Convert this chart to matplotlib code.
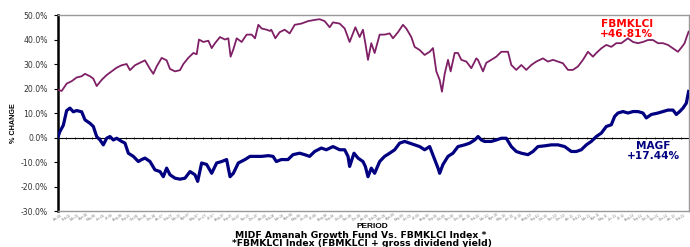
import matplotlib
matplotlib.use("Agg")
import matplotlib.pyplot as plt

plt.rcParams['font.family'] = ['Liberation Sans', 'DejaVu Sans']

# ---- data (months from start of period, % change) ----
klci_t = [0.0, 0.47, 1.05, 1.64, 2.22, 2.81, 3.20, 3.79, 4.18, 4.57, 5.15, 5.74, 6.33, 6.91, 7.50,
          8.08, 8.47, 9.06, 9.65, 10.23, 10.82, 11.21, 11.60, 12.19, 12.77, 13.16, 13.75, 14.34,
          14.73, 15.31, 15.90, 16.29, 16.56, 17.07, 17.66, 18.05, 18.44, 19.02, 19.61, 20.00,
          20.27, 20.59, 20.98, 21.56, 22.15, 22.74, 23.13, 23.52, 23.91, 24.49, 24.88,
          25.04, 25.51, 26.02, 26.60, 27.19, 27.78, 28.56, 29.34, 30.12, 30.71, 31.29, 31.88,
          32.27, 33.05, 33.64, 34.22, 34.89, 35.39, 35.78, 36.06, 36.37, 36.76, 37.15, 37.74,
          38.32, 38.91, 39.30, 39.89, 40.47, 40.86, 41.45, 41.84, 42.43, 43.01, 43.60, 43.99,
          44.38, 44.77, 45.04, 45.36, 45.75, 46.06, 46.53, 46.92, 47.31, 47.90, 48.48, 49.07,
          49.26, 49.85, 50.24, 50.82, 51.41, 52.00, 52.78, 53.17, 53.75, 54.34, 54.93, 55.51,
          56.10, 56.88, 57.46, 58.05, 58.64, 59.22, 59.81, 60.39, 60.98, 61.57, 62.15, 62.74,
          63.13, 63.72, 64.30, 64.89, 65.47, 66.06, 66.84, 67.43, 68.01, 68.60, 69.19, 69.77,
          70.36, 70.94, 71.53, 72.12, 72.70, 73.17, 73.48, 73.80, 73.95]
klci_v = [19.5, 19.0, 22.0, 23.0, 24.5, 25.0, 26.0, 25.0, 24.0, 21.0, 23.5, 25.5, 27.0, 28.5, 29.5,
          30.0, 27.5, 29.5, 30.5, 31.5, 28.0, 26.0, 29.0, 32.5, 31.5, 28.0, 27.0, 27.5,
          30.0, 32.5, 34.5, 34.0, 40.0, 39.0, 39.5, 36.5, 38.5, 41.0, 40.0, 40.5,
          33.0, 36.0, 40.5, 39.0, 42.0, 42.0, 40.5, 46.0, 44.5, 44.0, 43.5,
          44.0, 40.5, 43.0, 44.0, 42.5, 46.0, 46.5, 47.5, 48.0, 48.3, 47.5, 45.0,
          47.0, 46.5, 44.5, 39.0, 45.0, 41.0, 44.0, 38.5, 31.7, 38.5, 34.5, 42.0,
          42.0, 42.5, 40.5, 43.0, 46.0, 44.5, 41.0, 37.0, 35.7, 33.7, 35.0, 36.5,
          27.0, 23.5, 18.7, 26.0, 31.7, 27.0, 34.5, 34.5, 31.7, 31.0, 28.3, 32.3,
          31.7, 27.0, 30.5, 31.7, 33.0, 35.0, 35.0, 29.6, 27.6, 29.6, 27.6, 29.6,
          31.0, 32.3, 31.0, 31.7, 31.0, 30.3, 27.6, 27.6, 29.0, 31.7, 35.0, 33.0,
          34.5, 36.4, 37.8, 37.0, 38.5, 38.5, 40.5, 39.0, 38.5, 39.0, 39.8, 39.8,
          38.5, 38.5, 37.8, 36.4, 35.0, 37.0, 38.5, 41.8, 43.2]

magf_t = [0.0, 0.27, 0.66, 1.05, 1.44, 1.83, 2.22, 2.81, 3.20, 3.79, 4.18, 4.57, 4.96, 5.35, 5.74,
          6.13, 6.52, 6.91, 7.50, 7.89, 8.28, 8.87, 9.45, 9.84, 10.23, 10.82, 11.40, 11.99,
          12.38, 12.77, 13.16, 13.75, 14.34, 14.92, 15.51, 16.09, 16.41, 16.87, 17.46, 18.05,
          18.63, 19.22, 19.80, 20.20, 20.59, 21.17, 21.95, 22.54, 23.13, 23.91, 24.69,
          25.24, 25.63, 26.21, 26.99, 27.58, 28.36, 28.95, 29.53, 30.12, 30.90, 31.49, 32.27,
          33.05, 33.64, 34.03, 34.22, 34.73, 35.20, 35.78, 36.06, 36.37, 36.76, 37.15, 37.74,
          38.32, 38.91, 39.50, 40.08, 40.67, 41.25, 41.84, 42.43, 43.01, 43.60, 44.19, 44.58,
          44.77, 45.16, 45.75, 46.33, 46.92, 47.70, 48.29, 48.88, 49.27, 49.66,
          50.04, 50.82, 51.41, 52.00, 52.58, 53.17, 53.75, 54.34, 55.12, 55.71, 56.29, 57.07,
          57.86, 58.64, 59.42, 60.20, 60.79, 61.37, 61.96, 62.54, 63.13, 63.72, 64.30, 64.89,
          65.28, 65.67, 66.26, 66.84, 67.43, 68.01, 68.60, 68.99, 69.58, 70.36, 70.94, 71.53,
          72.12, 72.51, 72.90, 73.29, 73.68, 73.95]
magf_v = [0.0, 2.5, 5.0, 11.0, 12.0, 10.5, 11.0, 10.5, 7.2, 5.8, 4.5, 0.4, -1.0, -3.0, -0.3,
          0.4, -1.0, -0.3, -1.6, -2.3, -6.4, -7.7, -9.8, -9.0, -8.4, -9.8, -13.2, -13.9,
          -16.0, -12.5, -15.2, -16.6, -17.0, -16.6, -13.9, -15.2, -17.9, -10.4, -11.0, -14.6,
          -10.4, -9.8, -9.0, -16.0, -14.6, -10.4, -9.0, -7.7, -7.7, -7.7, -7.4,
          -7.7, -9.8, -9.0, -9.0, -7.0, -6.4, -7.0, -7.7, -5.7, -4.3, -5.0, -3.7,
          -5.0, -5.0, -7.7, -11.8, -6.4, -8.4, -9.8, -11.8, -16.0, -12.5, -14.6, -9.8,
          -7.7, -6.4, -5.0, -2.3, -1.6, -2.3, -3.0, -3.7, -5.0, -3.7, -9.0, -12.5,
          -14.6, -11.0, -7.7, -6.4, -3.7, -3.0, -2.3, -1.0, 0.4, -1.0,
          -1.6, -1.6, -1.0, -0.3, -0.3, -3.7, -5.7, -6.4, -7.0, -5.7, -3.7, -3.4,
          -3.0, -3.0, -3.7, -5.7, -5.7, -5.0, -3.0, -1.6, 0.4, 1.8, 4.5, 5.2,
          8.6, 10.0, 10.6, 10.0, 10.6, 10.6, 10.0, 8.0, 9.4, 10.0, 10.6, 11.2,
          11.2, 9.4, 10.6, 12.0, 14.0, 18.8]

month_names = ['Jan', 'Feb', 'Mar', 'Apr', 'May', 'Jun', 'Jul', 'Aug', 'Sep', 'Oct', 'Nov', 'Dec']
tick_months = list(range(0, 74))
tick_labels = [f"{month_names[m % 12]}-{(m // 12) + 6:02d}" for m in tick_months]
y_ticks = [-30, -20, -10, 0, 10, 20, 30, 40, 50]

klci_label = "FBMKLCI\n+46.81%"
magf_label = "MAGF\n+17.44%"
title1 = "MIDF Amanah Growth Fund Vs. FBMKLCI Index *"
title2 = "*FBMKLCI Index (FBMKLCI + gross dividend yield)"

# ---- figure ----
fig = plt.figure(figsize=(6.9, 2.47), dpi=100)
ax = fig.add_axes([0.0836, 0.1457, 0.9150, 0.7935])

ax.plot(klci_t, klci_v, color='#7F1F66', lw=1.3, zorder=3)
ax.plot(magf_t, magf_v, color='#000080', lw=2.3, zorder=3)

ax.axhline(0, color='black', lw=0.8, zorder=2)
ax.plot(tick_months, [0] * len(tick_months), ls='none', marker='|', ms=2, mew=0.5,
        color='black', zorder=2)

ax.set_xlim(0, 74)
ax.set_ylim(-30, 50)
ax.set_yticks(y_ticks)
ax.set_yticklabels([f"{v:.1f}%" for v in y_ticks], fontsize=5.6, color='#333333',
                   family='DejaVu Sans')
ax.set_xticks(tick_months)
ax.set_xticklabels(tick_labels, fontsize=2.3, color='#777777', rotation=30)
ax.tick_params(axis='x', length=0, pad=1.5)
ax.tick_params(axis='y', length=3, width=0.8, pad=4)

for s in ['top', 'right', 'bottom']:
    ax.spines[s].set_color('#999999')
    ax.spines[s].set_linewidth(1.0)
ax.spines['left'].set_color('black')
ax.spines['left'].set_linewidth(1.8)

ax.text(66.7, 44.3, klci_label, color='#FF0000', fontsize=7.6, fontweight='bold',
        family='DejaVu Sans', ha='center', va='center', linespacing=0.95, zorder=4)
ax.text(69.8, -5.5, magf_label, color='#000080', fontsize=7.6, fontweight='bold',
        family='DejaVu Sans', ha='center', va='center', linespacing=0.95, zorder=4)

fig.text(14 / 690, 1 - 123 / 247, "% CHANGE", rotation=90, fontsize=5.2, fontweight='bold',
         ha='center', va='center')
fig.text(372 / 690, 1 - 226 / 247, "PERIOD", fontsize=6, fontweight='bold',
         ha='center', va='center')
fig.text(361 / 690, 1 - 235 / 247, title1, fontsize=6.7, fontweight='bold',
         family='DejaVu Sans', ha='center', va='center')
fig.text(362 / 690, 1 - 243.5 / 247, title2, fontsize=6.7, fontweight='bold',
         family='DejaVu Sans', ha='center', va='center')

fig.savefig("out.png", dpi=100)
